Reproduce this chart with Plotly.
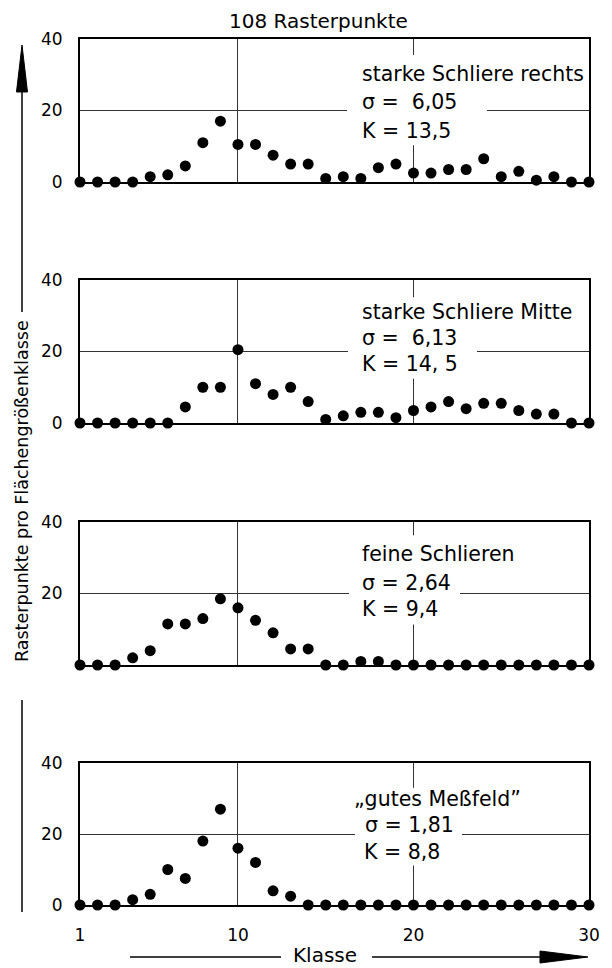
import plotly.graph_objects as go

klasse = list(range(1, 31))

p1_rechts = [0, 0, 0, 0, 1.5, 2, 4.5, 11, 17, 10.5, 10.5, 7.5, 5, 5, 1, 1.5, 1, 4, 5, 2.5,
             2.5, 3.5, 3.5, 6.5, 1.5, 3, 0.5, 1.5, 0, 0]
p2_mitte = [0, 0, 0, 0, 0, 0, 4.5, 10, 10, 20.5, 11, 8, 10, 6, 1, 2, 3, 3, 1.5, 3.5,
            4.5, 6, 4, 5.5, 5.5, 3.5, 2.5, 2.5, 0, 0]
p3_feine = [0, 0, 0, 2, 4, 11.5, 11.5, 13, 18.5, 16, 12.5, 9, 4.5, 4.5, 0, 0, 1, 1, 0, 0,
            0, 0, 0, 0, 0, 0, 0, 0, 0, 0]
p4_gutes = [0, 0, 0, 1.5, 3, 10, 7.5, 18, 27, 16, 12, 4, 2.5, 0, 0, 0, 0, 0, 0, 0,
            0, 0, 0, 0, 0, 0, 0, 0, 0, 0]

series = [p1_rechts, p2_mitte, p3_feine, p4_gutes]
labels = [
    ["starke Schliere rechts", "σ =  6,05", "K = 13,5"],
    ["starke Schliere Mitte", "σ =  6,13", "K = 14, 5"],
    ["feine Schlieren", "σ = 2,64", "K = 9,4"],
    ["„gutes Meßfeld”", "σ = 1,81", "K = 8,8"],
]
y_ticktexts = [["0", "20", "40"], ["0", "20", "40"], ["", "20", "40"], ["0", "20", "40"]]
x_tickvals = [1, 10, 20, 30]
x_ticktext = ["1", "10", "20", "30"]

W, H = 612, 968
FONT = "DejaVu Sans"
panels_px = [(39, 182), (280, 423), (522, 665), (763, 905)]  # (top, zero) in px
x_px = (80, 589)

# text layout per panel: x (class units) for each line, y (value units) for each line
text_x = [[17.0, 17.0, 17.0], [17.0, 17.0, 17.0], [17.0, 17.0, 17.0], [16.55, 17.2, 17.15]]
text_y = [[30.1, 22.3, 14.4], [31.0, 23.8, 16.6], [31.0, 22.9, 15.6], [30.0, 22.5, 15.0]]
# white gaps in the grid lines: horizontal gap x-range (px) and vertical gap y-range (value units)
hgap_px = [(347, 487), (348, 477), (349, 460), (355, 462)]
vgap_val = [(10.3, 35.5), (12.4, 35.2), (11.3, 36.3), (11.1, 33.0)]


def xval(p):
    return 1 + (p - x_px[0]) / ((x_px[1] - x_px[0]) / 29)


fig = go.Figure()
shapes = []
for i, vals in enumerate(series):
    n = i + 1
    top, zero = panels_px[i]
    xa = "x" if n == 1 else f"x{n}"
    ya = "y" if n == 1 else f"y{n}"
    fig.add_trace(go.Scatter(
        x=klasse, y=vals, mode="markers", xaxis=xa, yaxis=ya,
        marker=dict(size=11, color="black"), cliponaxis=False, showlegend=False,
    ))
    xkey = "xaxis" if n == 1 else f"xaxis{n}"
    ykey = "yaxis" if n == 1 else f"yaxis{n}"
    fig.update_layout({
        xkey: dict(
            domain=[x_px[0] / W, x_px[1] / W], range=[1, 30], anchor=ya,
            tickvals=x_tickvals, ticktext=x_ticktext, showticklabels=(n == 4),
            showgrid=True, gridcolor="#333", gridwidth=1, zeroline=False,
            showline=True, mirror=True, linecolor="black", linewidth=2,
            ticks="", ticklabelstandoff=14, automargin=False,
            tickfont=dict(family=FONT, size=17, color="black"),
        ),
        ykey: dict(
            domain=[1 - zero / H, 1 - top / H], range=[0, 40], anchor=xa,
            tickvals=[0, 20, 40], ticktext=y_ticktexts[i],
            showgrid=True, gridcolor="#333", gridwidth=1, zeroline=False,
            showline=True, mirror=True, linecolor="black", linewidth=2,
            ticks="", ticklabelstandoff=12, automargin=False,
            tickfont=dict(family=FONT, size=17, color="black"),
        ),
    })
    # white patches interrupting the grid lines behind the text
    h0, h1 = hgap_px[i]
    shapes.append(dict(type="rect", xref=xa, yref=ya, layer="between",
                       x0=xval(h0), x1=xval(h1), y0=19, y1=21,
                       fillcolor="white", line=dict(width=0)))
    v0, v1 = vgap_val[i]
    shapes.append(dict(type="rect", xref=xa, yref=ya, layer="between",
                       x0=19.6, x1=20.4, y0=v0, y1=v1,
                       fillcolor="white", line=dict(width=0)))
    for j, t in enumerate(labels[i]):
        fig.add_annotation(
            x=text_x[i][j], y=text_y[i][j], xref=xa, yref=ya, text=t, showarrow=False,
            xanchor="left", yanchor="middle", borderpad=0,
            font=dict(family=FONT, size=20.5, color="black"),
        )

# title
fig.add_annotation(x=318 / W, y=1 - 21 / H, xref="paper", yref="paper",
                   text="108 Rasterpunkte", showarrow=False,
                   xanchor="center", yanchor="middle",
                   font=dict(family=FONT, size=20, color="black"))
# y-axis label
fig.add_annotation(x=22 / W, y=1 - 491 / H, xref="paper", yref="paper",
                   text="Rasterpunkte pro Flächengrößenklasse", showarrow=False,
                   xanchor="center", yanchor="middle",
                   textangle=-90, font=dict(family=FONT, size=17.5, color="black"))
# x-axis label
fig.add_annotation(x=325 / W, y=1 - 955 / H, xref="paper", yref="paper",
                   text="Klasse", showarrow=False,
                   xanchor="center", yanchor="middle",
                   font=dict(family=FONT, size=20, color="black"))


def px(xp, yp):
    return f"{xp / W:.5f},{1 - yp / H:.5f}"


shapes += [
    dict(type="line", xref="paper", yref="paper", x0=22 / W, x1=22 / W,
         y0=1 - 312 / H, y1=1 - 85 / H, line=dict(color="black", width=1.5)),
    dict(type="path", xref="paper", yref="paper",
         path=f"M {px(22, 45)} L {px(16.5, 92)} L {px(27.5, 92)} Z",
         fillcolor="black", line=dict(color="black", width=1)),
    dict(type="line", xref="paper", yref="paper", x0=22 / W, x1=22 / W,
         y0=1 - 700 / H, y1=1 - 912 / H, line=dict(color="black", width=1.5)),
    dict(type="line", xref="paper", yref="paper", x0=130 / W, x1=281 / W,
         y0=1 - 957 / H, y1=1 - 957 / H, line=dict(color="black", width=1.5)),
    dict(type="line", xref="paper", yref="paper", x0=372 / W, x1=545 / W,
         y0=1 - 957 / H, y1=1 - 957 / H, line=dict(color="black", width=1.5)),
    dict(type="path", xref="paper", yref="paper",
         path=f"M {px(588, 957)} L {px(540, 951)} L {px(540, 963)} Z",
         fillcolor="black", line=dict(color="black", width=1)),
]

fig.update_layout(
    width=W, height=H, margin=dict(l=0, r=0, t=0, b=0),
    paper_bgcolor="white", plot_bgcolor="white", shapes=shapes,
    showlegend=False,
)

fig.write_html(
    "out.html",
    config={"displayModeBar": False},
    post_script="document.body.style.margin='0';document.body.style.overflow='hidden';",
)
